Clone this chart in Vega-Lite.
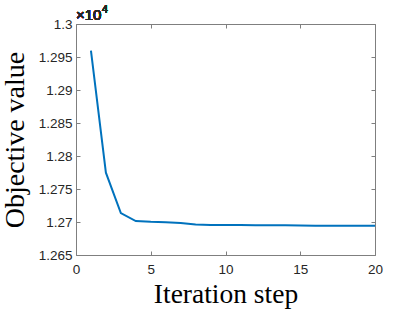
{
  "$schema": "https://vega.github.io/schema/vega-lite/v6.json",
  "autosize": {"type": "none"},
  "width": 299,
  "height": 231,
  "padding": {"left": 76, "top": 24, "right": 40, "bottom": 57},
  "background": "white",
  "config": {
    "view": {"stroke": null},
    "axis": {
      "grid": false,
      "domainColor": "#7f7f7f",
      "domainWidth": 1,
      "tickColor": "#7f7f7f",
      "tickSize": -4,
      "labelFlush": false,
      "labelOverlap": false,
      "labelFont": "Liberation Sans",
      "labelFontSize": 13.5,
      "labelColor": "#262626",
      "titleFont": "Liberation Serif",
      "titleFontSize": 28,
      "titleFontWeight": "normal",
      "titleColor": "#000000"
    }
  },
  "data": {
    "values": [
      {"step": 1, "value": 12959.5},
      {"step": 2, "value": 12774.7},
      {"step": 3, "value": 12713.6},
      {"step": 4, "value": 12701.5},
      {"step": 5, "value": 12700.2},
      {"step": 6, "value": 12699.6},
      {"step": 7, "value": 12698.6},
      {"step": 8, "value": 12696.2},
      {"step": 9, "value": 12695.6},
      {"step": 10, "value": 12695.5},
      {"step": 11, "value": 12695.4},
      {"step": 12, "value": 12695.2},
      {"step": 13, "value": 12695.1},
      {"step": 14, "value": 12694.9},
      {"step": 15, "value": 12694.6},
      {"step": 16, "value": 12694.5},
      {"step": 17, "value": 12694.5},
      {"step": 18, "value": 12694.5},
      {"step": 19, "value": 12694.5},
      {"step": 20, "value": 12694.5}
    ]
  },
  "layer": [
    {
      "mark": {"type": "line", "color": "#0072BD", "strokeWidth": 2},
      "encoding": {
        "x": {
          "field": "step", "type": "quantitative",
          "scale": {"domain": [0, 20], "nice": false},
          "axis": {"orient": "bottom", "values": [0, 5, 10, 15, 20], "title": "Iteration step", "titleFontSize": 27.5, "labelPadding": 11, "titlePadding": 5}
        },
        "y": {
          "field": "value", "type": "quantitative",
          "scale": {"domain": [12650, 13000], "nice": false, "zero": false},
          "axis": {"orient": "left", "values": [12650, 12700, 12750, 12800, 12850, 12900, 12950, 13000], "labelExpr": "datum.value / 10000", "title": "Objective value", "labelPadding": 8, "titlePadding": 9}
        }
      }
    },
    {
      "mark": {"type": "line", "opacity": 0},
      "encoding": {
        "x": {
          "field": "step", "type": "quantitative",
          "scale": {"domain": [0, 20], "nice": false},
          "axis": {"orient": "top", "values": [0, 5, 10, 15, 20], "labels": false, "title": null}
        },
        "y": {
          "field": "value", "type": "quantitative",
          "scale": {"domain": [12650, 13000], "nice": false, "zero": false},
          "axis": {"orient": "right", "values": [12650, 12700, 12750, 12800, 12850, 12900, 12950, 13000], "labels": false, "title": null}
        }
      }
    },
    {
      "mark": {"type": "text", "align": "left", "baseline": "alphabetic", "dy": -4, "font": "Liberation Sans", "fontSize": 15, "fontWeight": "normal", "color": "#262626"},
      "encoding": {
        "x": {"datum": 0, "type": "quantitative", "axis": null},
        "y": {"datum": 13000, "type": "quantitative", "axis": null},
        "text": {"value": "×10"}
      }
    },
    {
      "mark": {"type": "text", "align": "left", "baseline": "alphabetic", "dx": 26, "dy": -11, "font": "Liberation Sans", "fontSize": 10.5, "fontWeight": "normal", "color": "#262626"},
      "encoding": {
        "x": {"datum": 0, "type": "quantitative", "axis": null},
        "y": {"datum": 13000, "type": "quantitative", "axis": null},
        "text": {"value": "4"}
      }
    }
  ],
  "resolve": {"axis": {"x": "independent", "y": "independent"}}
}
